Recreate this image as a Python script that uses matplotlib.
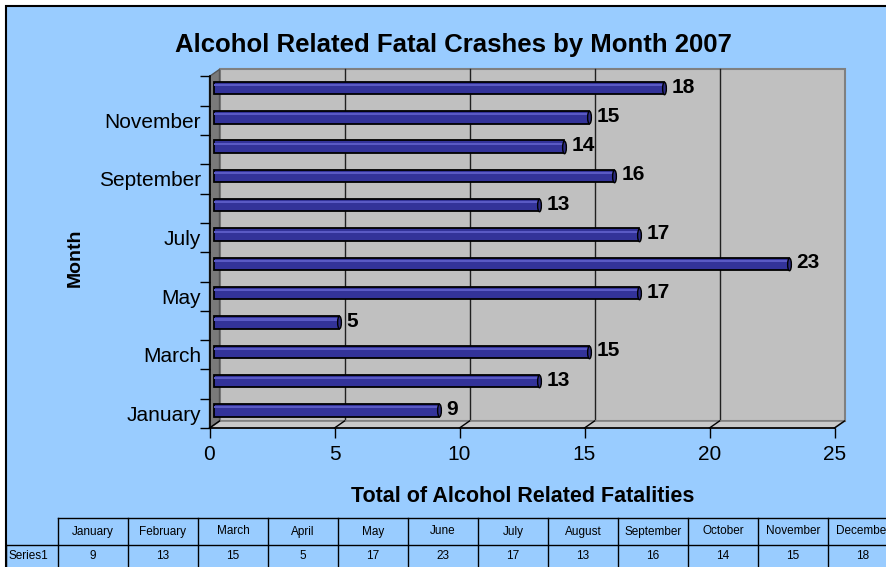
import matplotlib
matplotlib.use('Agg')
import matplotlib.pyplot as plt
import matplotlib.patches as patches
from matplotlib.transforms import offset_copy, Affine2D
from matplotlib.path import Path
import numpy as np

# Data
months = ['January', 'February', 'March', 'April', 'May', 'June',
          'July', 'August', 'September', 'October', 'November', 'December']
fatalities = [9, 13, 15, 5, 17, 23, 17, 13, 16, 14, 15, 18]
x_ticks = [0, 5, 10, 15, 20, 25]
series_name = 'Series1'

W, H = 886, 567
BLUE = '#99ccff'
BAR = '#333399'
FONT = 'Liberation Sans'

def fx(x):
    return x / W

def fy(y):
    return 1 - y / H

plt.rcParams['font.family'] = [FONT, 'DejaVu Sans']

fig = plt.figure(figsize=(W / 100, H / 100), dpi=100, facecolor='white')

# Chart area background with black border (runs off right/bottom edge)
bg = patches.Rectangle((fx(6), -0.1), 1.2, fy(6) + 0.1, transform=fig.transFigure,
                       facecolor=BLUE, edgecolor='black', lw=1.5, zorder=-5)
fig.patches.append(bg)

# Main plot (front plane of the 3D box)
ax = fig.add_axes([fx(209.5), fy(428), 625 / W, (428 - 76.4) / H])
ax.set_xlim(0, 25)
ax.set_ylim(-0.5, 11.5)
ax.patch.set_visible(False)

DX, DY = 10, 7  # depth of 3D box in pixels
back = offset_copy(ax.transData, fig=fig, x=DX, y=DY, units='dots')

# Back wall
wall = patches.Rectangle((0, -0.5), 25, 12, transform=back, facecolor='#c0c0c0',
                         edgecolor='#808080', lw=1.5, zorder=0, clip_on=False)
ax.add_patch(wall)
for v in x_ticks[1:-1]:
    ax.plot([v, v], [-0.5, 11.5], color='#202020', lw=1, transform=back, zorder=1,
            clip_on=False)

# Left wall and floor, built in display pixels from the data corners
fig.canvas.draw()
tr = ax.transData
p_bl = tr.transform((0, -0.5))
p_tl = tr.transform((0, 11.5))
p_br = tr.transform((25, -0.5))
d = np.array([DX, DY])
ident = matplotlib.transforms.IdentityTransform()
left_wall = patches.Polygon([p_bl, p_tl, p_tl + d, p_bl + d], closed=True, transform=ident,
                            facecolor='#7a7a7a', edgecolor='#555555', lw=1, zorder=1,
                            clip_on=False)
floor = patches.Polygon([p_bl, p_br, p_br + d, p_bl + d], closed=True, transform=ident,
                        facecolor='#c8c8c8', edgecolor='#808080', lw=1.2, zorder=1,
                        clip_on=False)
ax.add_patch(floor)
ax.add_patch(left_wall)
for v in x_ticks:
    a = tr.transform((v, -0.5))
    ax.plot([a[0], a[0] + DX], [a[1], a[1] + DY], color='black', lw=1,
            transform=ident, zorder=2, clip_on=False)

# Bars (cylinders in the middle of the depth)
bar_tr = offset_copy(ax.transData, fig=fig, x=4, y=3, units='dots')
ypos = np.arange(len(months))
ax.barh(ypos, fatalities, height=0.42, color=BAR, edgecolor='black', lw=1.3,
        transform=bar_tr, zorder=3, clip_on=False)
ax.barh(ypos + 0.1, fatalities, height=0.07, color='#5a5ac4', lw=0,
        transform=bar_tr, zorder=4, clip_on=False)
cap = Path.unit_circle().transformed(Affine2D().scale(0.3, 1))
ax.plot(fatalities, ypos, linestyle='none', marker=cap, markersize=9,
        markerfacecolor='#2a2a80', markeredgecolor='black', markeredgewidth=1,
        transform=bar_tr, zorder=5, clip_on=False)

# Value labels
lab_tr = offset_copy(ax.transData, fig=fig, x=12, y=4, units='dots')
for y, v in zip(ypos, fatalities):
    ax.text(v, y, str(v), transform=lab_tr, ha='left', va='center',
            fontsize=15, fontweight='bold', color='black', zorder=6)

# Axes styling
for s in ['top', 'right']:
    ax.spines[s].set_visible(False)
for s in ['left', 'bottom']:
    ax.spines[s].set_color('black')
    ax.spines[s].set_linewidth(1.2)
    ax.spines[s].set_zorder(7)

ax.set_xticks(x_ticks)
ax.set_xticklabels([str(t) for t in x_ticks])
ax.tick_params(axis='x', direction='out', length=7, width=1, pad=5, labelsize=15)
ax.set_yticks(ypos[::2])
ax.set_yticklabels(months[::2])
ax.tick_params(axis='y', which='major', length=0, pad=6, labelsize=15)
ax.set_yticks(np.arange(-0.5, 12, 1), minor=True)
ax.tick_params(axis='y', which='minor', direction='out', length=7, width=1)

# Titles
fig.text(fx(453), fy(45), 'Alcohol Related Fatal Crashes by Month 2007',
         ha='center', va='center', fontsize=18.5, fontweight='bold')
fig.text(fx(75), fy(258), 'Month', rotation=90, ha='center', va='center',
         fontsize=14, fontweight='bold')
fig.text(fx(523), fy(497), 'Total of Alcohol Related Fatalities',
         ha='center', va='center', fontsize=15.5, fontweight='bold')

# Data table
ax_t = fig.add_axes([fx(58), fy(572), 840 / W, 54 / H])
ax_t.set_xlim(0, 12)
ax_t.set_ylim(0, 2)
ax_t.axis('off')
lab_w = 52 / 70
ax_t.plot([0, 12], [2, 2], color='black', lw=1, clip_on=False)
ax_t.plot([-lab_w, 12], [1, 1], color='black', lw=1, clip_on=False)
ax_t.plot([-lab_w, 12], [0, 0], color='black', lw=1, clip_on=False)
ax_t.plot([-lab_w, -lab_w], [0, 1], color='black', lw=1, clip_on=False)
for i in range(13):
    ax_t.plot([i, i], [0, 2], color='black', lw=1, clip_on=False)
for i, (m, v) in enumerate(zip(months, fatalities)):
    ax_t.text(i + 0.5, 1.5, m, ha='center', va='center', fontsize=8.5, clip_on=False)
    ax_t.text(i + 0.5, 0.6, str(v), ha='center', va='center', fontsize=8.5, clip_on=False)
ax_t.text(-lab_w + 0.04, 0.6, series_name, ha='left', va='center', fontsize=8.5,
          clip_on=False)

fig.savefig('out.png', dpi=100, facecolor='white')
